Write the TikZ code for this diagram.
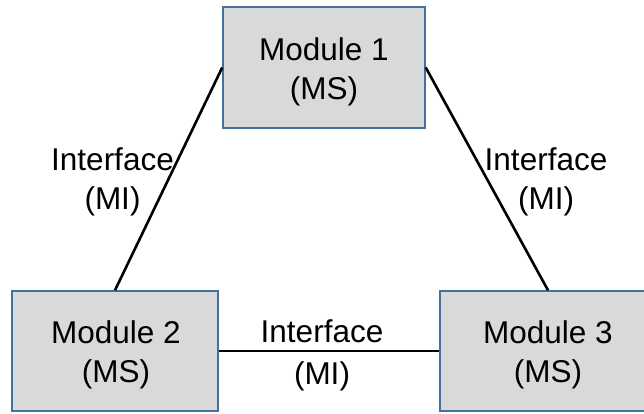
\documentclass[tikz,border=0pt]{standalone}
\usepackage{fontspec}
\setmainfont{Liberation Sans}
\definecolor{boxfill}{HTML}{D9D9D9}
\definecolor{boxedge}{HTML}{41719C}
\begin{document}
\begin{tikzpicture}[x=1pt,y=-1pt,
  modulebox/.style={draw=boxedge,line width=1.5pt,fill=boxfill,inner sep=0pt},
  moduletext/.style={align=center,inner sep=0pt,font=\fontsize{31.5}{39}\selectfont},
  iflabel/.style={align=center,inner sep=0pt,font=\fontsize{31.5}{39}\selectfont},
  link/.style={line width=2.6pt,black}]
\useasboundingbox (0,0) rectangle (644,413);
\clip (0,0) rectangle (644,413);

% modules
\node[modulebox,minimum width=202pt,minimum height=121pt] (m1) at (324,67.5) {};
\node[modulebox,minimum width=206pt,minimum height=120pt] (m2) at (115,351) {};
\node[modulebox,minimum width=216pt,minimum height=120pt] (m3) at (548,351) {};

\node[moduletext] (m1t) at (324,71.5) {Module 1\\(MS)};
\node[moduletext] (m2t) at (116,355) {Module 2\\(MS)};
\node[moduletext] (m3t) at (548,355) {Module 3\\(MS)};

% interfaces
\draw[link] (m1.west) -- (m2.north);
\draw[link] (m1.east) -- (m3.north);
\draw[link] (m2.east) -- (m3.west);

\node[iflabel] (i12) at (112.5,181.5) {Interface\\(MI)};
\node[iflabel] (i13) at (546,181.5) {Interface\\(MI)};
\node[iflabel,font=\fontsize{31.5}{42}\selectfont] (i23) at (322,355) {Interface\\(MI)};
\end{tikzpicture}
\end{document}
